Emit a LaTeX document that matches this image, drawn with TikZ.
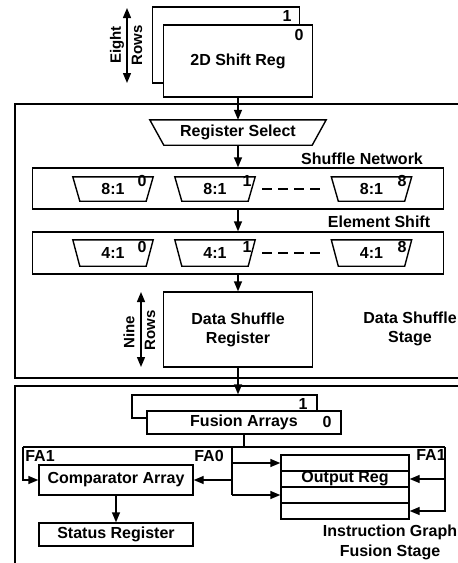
\documentclass[tikz,border=0pt]{standalone}
\usepackage{fontspec}
\setmainfont{Liberation Sans}
\usetikzlibrary{arrows.meta}
\begin{document}
\begin{tikzpicture}[x=1pt,y=-1pt,
  every node/.style={font=\fontsize{16}{19}\selectfont\bfseries, inner sep=0pt},
  wh/.style n args={2}{minimum width=#1pt, minimum height=#2pt},
  box/.style={draw, line width=1.4pt, fill=white},
  ln/.style={line width=1.4pt},
  arr/.style={line width=1.4pt, -{Triangle[length=10pt,width=8pt]}},
  darr/.style={line width=1.4pt, {Triangle[length=10pt,width=8pt]}-{Triangle[length=10pt,width=8pt]}},
  lbl/.style={font=\fontsize{15}{17}\selectfont\bfseries},
]
\useasboundingbox (0,0) rectangle (458,563);
\clip (0,0) rectangle (458,563);

% stage frames
\draw[ln] (15,104) rectangle (475,378);
\draw[ln] (15,386) rectangle (475,600);

% 2D shift register
\node[box, wh={147}{76}] (srb) at (226,45) {};
\node[box, wh={149}{72}] (srf) at (238,61) {2D Shift Reg};
\node (srb1) at (287,16) {1};
\node (srf0) at (299,35) {0};
\coordinate (e1) at (127,8);
\coordinate (e2) at (127,83);
\draw[darr] (e1) -- (e2);
\node[lbl, rotate=90] (eight) at (117,45) {Eight};
\node[lbl, rotate=90] (rowsa) at (137,45) {Rows};

% register select
\node[wh={176}{25}] (rs) at (238,132.5) {Register Select};
\draw[ln] (rs.north west) -- (rs.north east) -- ([xshift=-14pt]rs.south east) -- ([xshift=14pt]rs.south west) -- cycle;
\draw[arr] (srf.south) -- (rs.north);

% shuffle network
\node (snl) at (362,159) {Shuffle Network};
\node[box, wh={411}{41}] (sn) at (238,188.5) {};
\draw[arr] (rs.south) -- (sn.north);
\node[wh={80}{24}] (m0) at (113,189) {8:1};
\node[wh={80}{24}] (m1) at (215,189) {8:1};
\node[wh={80}{24}] (m8) at (371.5,189) {8:1};
\node (m0n) at (142,181) {0};
\node (m1n) at (247,181) {1};
\node (m8n) at (402,181) {8};
\draw[ln, dash pattern=on 10pt off 6pt] ([xshift=7pt]m1.east) -- ([xshift=-9pt]m8.west);

% element shift
\node (esl) at (379,222) {Element Shift};
\node[box, wh={411}{42}] (es) at (238,253) {};
\draw[arr] (sn.south) -- (es.north);
\node[wh={80}{26}] (k0) at (113,253) {4:1};
\node[wh={80}{26}] (k1) at (215,253) {4:1};
\node[wh={80}{26}] (k8) at (371.5,253) {4:1};
\node (k0n) at (142,247) {0};
\node (k1n) at (247,247) {1};
\node (k8n) at (402,247) {8};
\draw[ln, dash pattern=on 10pt off 6pt] ([xshift=7pt]k1.east) -- ([xshift=-9pt]k8.west);

\foreach \m in {m0,m1,m8,k0,k1,k8}
  \draw[ln] (\m.north west) -- (\m.north east) -- ([xshift=-7pt]\m.south east) -- ([xshift=7pt]\m.south west) -- cycle;

% data shuffle register
\node[box, wh={149}{75}, align=center] (dsr) at (238,329.5) {Data Shuffle\\Register};
\draw[arr] (es.south) -- (dsr.north);
\coordinate (n1) at (141,292);
\coordinate (n2) at (141,367);
\draw[darr] (n1) -- (n2);
\node[lbl, rotate=90] (nine) at (129,332) {Nine};
\node[lbl, rotate=90] (rowsb) at (150,330) {Rows};
\node[align=center] (dss) at (410,329) {Data Shuffle\\Stage};

% fusion arrays
\node[box, wh={185}{23}] (fb) at (224.5,406.5) {};
\node[box, wh={194}{23}] (ff) at (244,422.5) {Fusion Arrays};
\node (fb1) at (303,404) {1};
\node (ff0) at (327,422) {0};
\draw[arr] (dsr.south) -- (dsr.south |- fb.north);

% distribution
\coordinate (j) at (244,447);
\coordinate (jl) at (23,447);
\coordinate (jr) at (445,447);
\coordinate (fa0top) at (232,447);
\coordinate (fa0bot) at (232,495);
\draw[ln] (ff.south) -- (j);
\draw[ln] (jl) -- (jr);

\node[box, wh={154}{30}] (cmp) at (116,480) {Comparator Array};
\node[box, wh={128}{16}] (r1) at (345,463) {};
\node[box, wh={128}{16}] (r2) at (345,479) {Output Reg};
\node[box, wh={128}{16}] (r3) at (345,495) {};
\node[box, wh={128}{16}] (r4) at (345,511) {};
\node[box, wh={154}{23}] (st) at (116,534.5) {Status Register};

\draw[arr] (jl) |- (cmp.west);
\draw[ln] (fa0top) -- (fa0bot);
\draw[arr] (fa0top |- cmp.east) -- (cmp.east);
\draw[arr] (fa0top |- r1.west) -- (r1.west);
\draw[arr] (fa0bot) -- (r3.west);
\draw[arr] (jr) |- (r4.east);
\draw[arr] (jr |- r2.east) -- (r2.east);
\draw[arr] (cmp.south) -- (st.north);

\node (fa1l) at (40,456) {FA1};
\node (fa0l) at (209,456) {FA0};
\node (fa1r) at (431,455) {FA1};
\node[align=center, font=\fontsize{16}{20}\selectfont\bfseries] (igf) at (390,542) {Instruction Graph\\Fusion Stage};
\end{tikzpicture}
\end{document}
